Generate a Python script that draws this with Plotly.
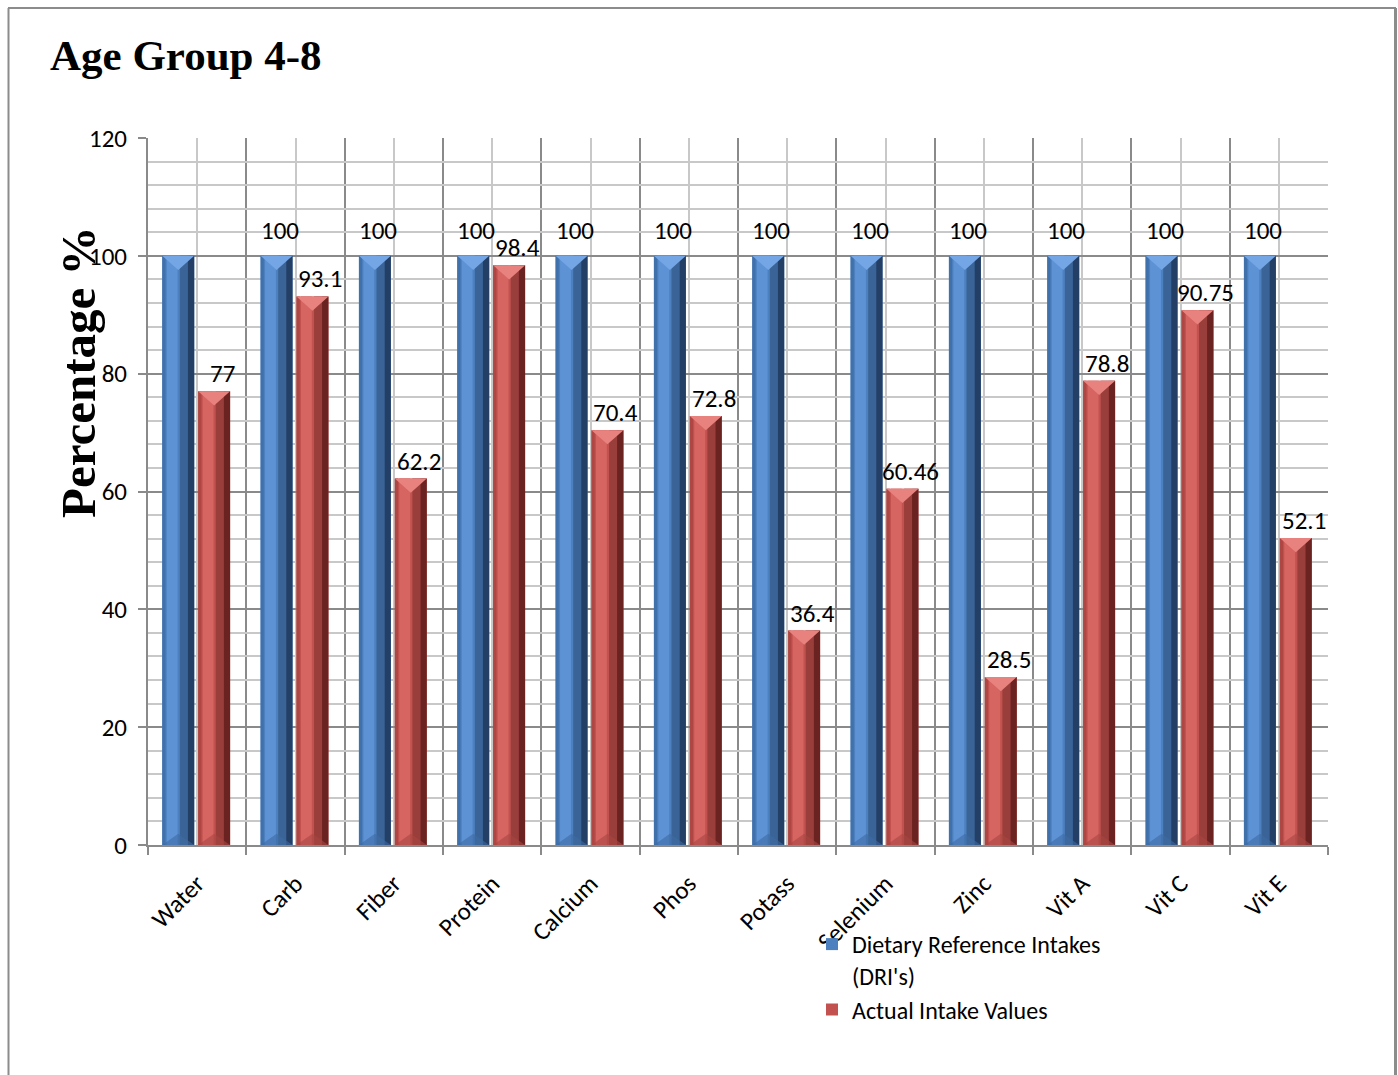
import plotly.graph_objects as go

# ---- data ----
nutrients = ["Water", "Carb", "Fiber", "Protein", "Calcium", "Phos",
             "Potass", "Selenium", "Zinc", "Vit A", "Vit C", "Vit E"]
dri_values = [100, 100, 100, 100, 100, 100, 100, 100, 100, 100, 100, 100]
actual_values = [77, 93.1, 62.2, 98.4, 70.4, 72.8, 36.4, 60.46, 28.5, 78.8, 90.75, 52.1]
dri_label_text = ["", "100", "100", "100", "100", "100", "100", "100",
                  "100", "100", "100", "100"]
actual_label_text = ["77", "93.1", "62.2", "98.4", "70.4", "72.8", "36.4",
                     "60.46", "28.5", "78.8", "90.75", "52.1"]
y_ticks = [0, 20, 40, 60, 80, 100, 120]

# ---- figure geometry (px) ----
W, H = 1398, 1075
L, R, T, B = 148, 1328, 138, 845
x_idx = list(range(len(nutrients)))

SANS = "Carlito, Lato, sans-serif"
SERIF = "Liberation Serif, Times New Roman, serif"

BAR_W = 0.325
series = [
    dict(name="Dietary Reference Intakes<br>(DRI's)", values=dri_values, offset=-0.355,
         base="#4c80bf", edge="#4171ab", light="#5d92d5", dark="#3a6497",
         darkest="#243f66", top="#74a5e5", bottom="#3d6aa3",
         labels=dri_label_text, xshift=3, yshift=8),
    dict(name="Actual Intake Values", values=actual_values, offset=0.01,
         base="#c2524f", edge="#ae4744", light="#d66461", dark="#9a3e3b",
         darkest="#6a2321", top="#e8827f", bottom="#a84643",
         labels=actual_label_text, xshift=8, yshift=0),
]

fig = go.Figure()

for s in series:
    x0 = s["offset"]
    # body of the bar, then shading bands layered over it
    fig.add_trace(go.Bar(x=x_idx, y=s["values"], offset=x0, width=BAR_W,
                         marker=dict(color=s["base"], line=dict(width=0)),
                         name=s["name"], showlegend=True))
    bands = [
        (0.00, 0.10, s["edge"]),
        (0.14, 0.48, s["light"]),
        (0.55, 0.80, s["dark"]),
        (0.80, 1.00, s["darkest"]),
    ]
    for a, b, col in bands:
        fig.add_trace(go.Bar(x=x_idx, y=s["values"], offset=x0 + a * BAR_W,
                             width=(b - a) * BAR_W,
                             marker=dict(color=col, line=dict(width=0)),
                             showlegend=False, hoverinfo="skip"))
    # bevelled top and bottom facets
    depth = 2.4
    tx, ty, bx, by = [], [], [], []
    for i, v in zip(x_idx, s["values"]):
        left, right = i + x0, i + x0 + BAR_W
        mid = (left + right) / 2
        tx += [left, right, mid, left, None]
        ty += [v, v, v - depth, v, None]
        bx += [left, right, mid, left, None]
        by += [0, 0, depth * 0.8, 0, None]
    fig.add_trace(go.Scatter(x=tx, y=ty, mode="lines", fill="toself",
                             fillcolor=s["top"], line=dict(width=0),
                             showlegend=False, hoverinfo="skip"))
    fig.add_trace(go.Scatter(x=bx, y=by, mode="lines", fill="toself",
                             fillcolor=s["bottom"], opacity=0.6,
                             line=dict(width=0), showlegend=False,
                             hoverinfo="skip"))

# value labels
annotations = []
for s in series:
    for i, v, txt in zip(x_idx, s["values"], s["labels"]):
        if not txt:
            continue
        annotations.append(dict(
            x=i + s["offset"] + BAR_W / 2, y=v, xref="x", yref="y",
            text=txt, showarrow=False, yanchor="bottom",
            xshift=s["xshift"], yshift=s["yshift"],
            font=dict(family=SANS, size=25, color="#000")))


def px(xp):
    return (xp - L) / (R - L)


def py(yp):
    return (B - yp) / (B - T)


# y-axis title
annotations.append(dict(
    x=px(78), y=py(372), xref="paper", yref="paper",
    xanchor="center", yanchor="middle",
    text="<b>Percentage %</b>", textangle=-90, showarrow=False,
    font=dict(family=SERIF, size=49, color="#000")))

# outer frame (left, top, right edges)
shapes = [
    dict(type="line", xref="paper", yref="paper", x0=px(8.5), x1=px(8.5),
         y0=py(8), y1=py(1080), line=dict(color="#8c8c8c", width=2)),
    dict(type="line", xref="paper", yref="paper", x0=px(8), x1=px(1396),
         y0=py(8), y1=py(8), line=dict(color="#8c8c8c", width=2)),
    dict(type="line", xref="paper", yref="paper", x0=px(1395.5), x1=px(1395.5),
         y0=py(8), y1=py(1080), line=dict(color="#8c8c8c", width=3)),
]

fig.update_layout(
    width=W, height=H,
    margin=dict(l=L, r=W - R, t=T, b=H - B),
    paper_bgcolor="white", plot_bgcolor="white",
    barmode="overlay",
    title=dict(text="<b>Age Group 4-8</b>", x=50 / W, xanchor="left",
               y=1 - 55 / H, yanchor="middle",
               font=dict(family=SERIF, size=43, color="#000")),
    font=dict(family=SANS, size=25, color="#000"),
    legend=dict(x=px(812), y=py(922), xanchor="left", yanchor="top",
                bgcolor="rgba(0,0,0,0)", font=dict(size=24),
                itemwidth=30, tracegroupgap=0, valign="top"),
    annotations=annotations,
    shapes=shapes,
    xaxis=dict(range=[-0.5, len(nutrients) - 0.5], tickmode="array",
               tickvals=x_idx, ticktext=nutrients, tickangle=-45,
               showgrid=True, gridcolor="#c8c8c8", gridwidth=1.5,
               ticks="", showline=True, linecolor="#8a8a8a", linewidth=2,
               zeroline=False, ticklabelstandoff=12,
               minor=dict(tickvals=[k - 0.5 for k in range(len(nutrients) + 1)],
                          showgrid=True, gridcolor="#8a8a8a", gridwidth=1.5,
                          ticks="outside", ticklen=8, tickcolor="#8a8a8a",
                          tickwidth=2)),
    yaxis=dict(range=[0, 120], tickmode="array", tickvals=y_ticks,
               showgrid=True, gridcolor="#8a8a8a", gridwidth=1.5,
               ticks="outside", ticklen=8, tickcolor="#8a8a8a", tickwidth=2,
               showline=True, linecolor="#8a8a8a", linewidth=2,
               zeroline=False, ticklabelstandoff=6,
               minor=dict(dtick=4, showgrid=True, gridcolor="#c8c8c8",
                          gridwidth=1.5)),
)

fig.write_html("out.html")
